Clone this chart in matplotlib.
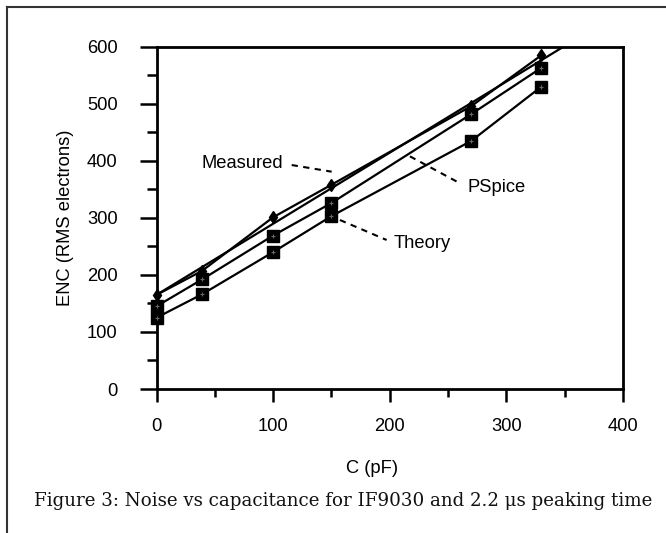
import matplotlib
matplotlib.use("Agg")
import matplotlib.pyplot as plt
from matplotlib.lines import Line2D

# ---- data ----
measured_c = [0, 39, 100, 150, 270, 330]
measured_enc = [165, 207, 301, 358, 496, 585]
pspice_c = [0, 39, 100, 150, 270, 330]
pspice_enc = [145, 192, 269, 326, 482, 563]
theory_c = [0, 39, 100, 150, 270, 330]
theory_enc = [125, 166, 240, 303, 435, 530]
fit_c = [0, 349]
fit_enc = [165, 600]
x_ticks = [0, 100, 200, 300, 400]
y_ticks = [0, 100, 200, 300, 400, 500, 600]

W, H = 666, 533
fig = plt.figure(figsize=(W / 100, H / 100), dpi=100)
plt.rcParams['font.family'] = ['Liberation Sans', 'DejaVu Sans']

def fx(px):
    return px / W

def fy(py):
    return 1 - py / H

ax = fig.add_axes([fx(156.5), fy(389), fx(623) - fx(156.5), fy(46.7) - fy(389)])
ax.set_xlim(0, 400)
ax.set_ylim(0, 600)

lw = 1.6
ax.plot(fit_c, fit_enc, color='black', lw=lw, solid_capstyle='butt', clip_on=True)
ax.plot(measured_c, measured_enc, color='black', lw=lw, marker='d', ms=6.2,
        mfc='black', mec='black', clip_on=False, zorder=3)
for xs, ys in ((pspice_c, pspice_enc), (theory_c, theory_enc)):
    ax.plot(xs, ys, color='black', lw=lw, marker='s', ms=8,
            mfc='black', mec='black', clip_on=False, zorder=3)
    ax.plot(xs, ys, ls='none', marker='+', ms=3.5, mew=0.8, color='#666666',
            clip_on=False, zorder=4)

# annotations
dash = (0, (3, 2.6))
ax.text(38.7, 387.4, 'Measured', fontsize=13.2, ha='left', va='baseline')
ax.plot([115.9, 150.2], [392.6, 380.9], color='black', lw=1.5, ls=dash)
ax.text(267, 345.8, 'PSpice', fontsize=13.2, ha='left', va='baseline')
ax.plot([217.3, 260.2], [407.8, 360.6], color='black', lw=1.5, ls=dash)
ax.text(203, 247.7, 'Theory', fontsize=13.2, ha='left', va='baseline')
ax.plot([157.3, 197.3], [296.2, 261.2], color='black', lw=1.5, ls=dash)

# axes styling
for s in ax.spines.values():
    s.set_linewidth(2)
ax.set_xticks(x_ticks)
ax.set_yticks(y_ticks)
ax.set_xticks([50, 150, 250, 350], minor=True)
ax.set_yticks([50, 150, 250, 350, 450, 550], minor=True)
ax.tick_params(axis='x', which='major', direction='out', length=9.2, width=1.8,
               pad=11.5, labelsize=13.2)
ax.tick_params(axis='x', which='minor', direction='out', length=5.5, width=1.8)
ax.tick_params(axis='y', which='major', direction='out', length=12.2, width=1.8,
               pad=15.8, labelsize=13.2)
ax.tick_params(axis='y', which='minor', direction='out', length=7.2, width=1.8)

fig.text(fx(65), fy(218), 'ENC (RMS electrons)', rotation=90, fontsize=13.2,
         ha='center', va='center')
fig.text(fx(372), fy(472.7), 'C (pF)', fontsize=13.2, ha='center', va='baseline')

cap = fig.text(fx(343.5), fy(506),
               'Figure 3: Noise vs capacitance for IF9030 and 2.2 \u03bcs peaking time',
               fontsize=14, ha='center', va='baseline', family=['DejaVu Serif'],
               color='#111111')
fig.canvas.draw()
bw = cap.get_window_extent(renderer=fig.canvas.get_renderer()).width
cap.set_fontsize(14 * 623.0 / bw)

# page frame (left and top)
fig.add_artist(Line2D([fx(6.7), fx(6.7)], [0, fy(6.7)], color='#333333', lw=1.5))
fig.add_artist(Line2D([fx(6.7), 1], [fy(6.7), fy(6.7)], color='#333333', lw=1.5))

fig.savefig('out.png', dpi=100)
